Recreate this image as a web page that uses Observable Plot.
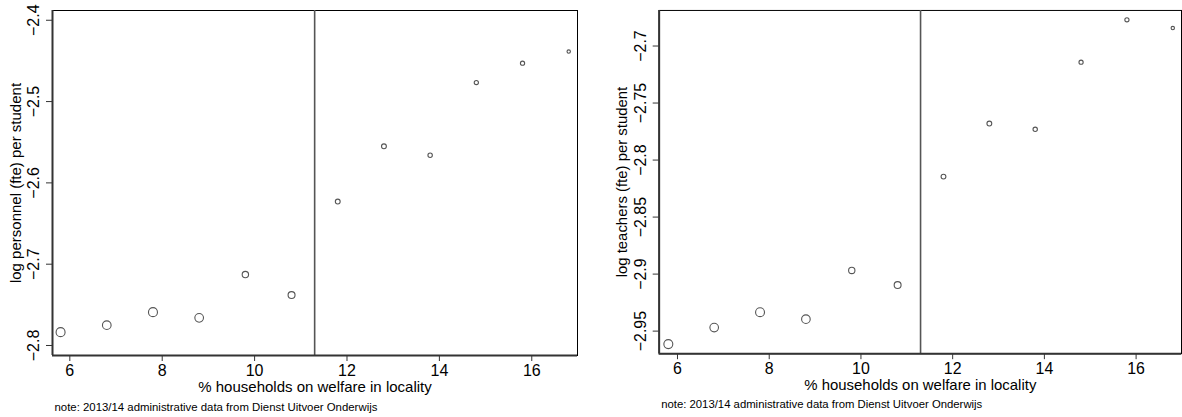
<!DOCTYPE html>
<html>
<head>
<meta charset="utf-8">
<script src="https://cdn.jsdelivr.net/npm/d3@7"></script>
<script src="https://cdn.jsdelivr.net/npm/@observablehq/plot@0.6"></script>
<style>
  html, body { margin: 0; padding: 0; background: #fff; }
  #wrap { width: 1182px; height: 417px; overflow: hidden; display: flex; background: #fff; }
  #left { width: 591px; flex: none; }
  #right { width: 591px; flex: none; overflow: visible; }
  svg { font-family: "Liberation Sans", Arial, sans-serif; display: block; }
</style>
</head>
<body>
<div id="wrap"><div id="left"></div><div id="right"></div></div>
<script>
// ---- data ----
const welfare = [5.8, 6.8, 7.8, 8.8, 9.8, 10.8, 11.8, 12.8, 13.8, 14.8, 15.8, 16.8];
const logPersonnel = [-2.7836, -2.775, -2.759, -2.766, -2.7127, -2.738, -2.623, -2.555, -2.566, -2.4766, -2.4528, -2.4385];
const logTeachers = [-2.9614, -2.9469, -2.9334, -2.9395, -2.8968, -2.9096, -2.8145, -2.768, -2.773, -2.7142, -2.677, -2.6843];
const binWeight = [200, 185, 200, 185, 100, 120, 58, 58, 48, 44, 44, 29];
const cutoff = 11.3;
const xTicks = [6, 8, 10, 12, 14, 16];
const yTicksPersonnel = [-2.8, -2.7, -2.6, -2.5, -2.4];
const yTicksTeachers = [-2.95, -2.9, -2.85, -2.8, -2.75, -2.7];
const xDomainLeft = [5.625, 16.99];
const xDomainRight = [5.6, 16.99];
const yDomainPersonnel = [-2.8123, -2.388];
const yDomainTeachers = [-2.9698, -2.6688];
const xTitle = "% households on welfare in locality";
const yTitlePersonnel = "log personnel (fte) per student";
const yTitleTeachers = "log teachers (fte) per student";
const note = "note: 2013/14 administrative data from Dienst Uitvoer Onderwijs";

const fmt = d => String(d).replace("-", "\u2212");

function panel({values, yTicks, xDomain, yDomain, yTitle, width, marginLeft, marginRight}) {
  const data = welfare.map((x, i) => ({x, y: values[i], w: binWeight[i]}));
  return Plot.plot({
    width, height: 417,
    marginTop: 10, marginBottom: 62, marginLeft, marginRight,
    style: {fontFamily: '"Liberation Sans", Arial, sans-serif', background: "#fff", overflow: "visible"},
    x: {domain: xDomain},
    y: {domain: yDomain},
    r: {type: "sqrt", domain: [0, 200], range: [0, 4.5]},
    marks: [
      Plot.frame({stroke: "#000", strokeWidth: 1}),
      Plot.ruleX([cutoff], {stroke: "#555", strokeWidth: 1.6}),
      Plot.ruleX([xDomain[0]], {stroke: "#333", strokeWidth: 2}),
      Plot.ruleY([yDomain[0]], {stroke: "#333", strokeWidth: 2}),
      Plot.axisX({ticks: xTicks, tickSize: 6, tickPadding: 3, fontSize: 16, label: null, stroke: "#333", color: "#000"}),
      Plot.axisY({ticks: yTicks, tickSize: 6, tickFormat: () => "", label: null, stroke: "#333"}),
      Plot.text(yTicks, {y: d => d, text: fmt, frameAnchor: "left", dx: -13.5, rotate: -90, textAnchor: "middle", lineAnchor: "bottom", fontSize: 16, fill: "#000"}),
      Plot.text([yTitle], {text: d => d, frameAnchor: "left", dx: -32, rotate: -90, textAnchor: "middle", lineAnchor: "bottom", fontSize: 15, fill: "#000"}),
      Plot.text([xTitle], {text: d => d, frameAnchor: "bottom", dy: 36.5, lineAnchor: "bottom", fontSize: 15, fill: "#000"}),
      Plot.text([note], {text: d => d, frameAnchor: "bottom-left", dx: 2, dy: 55, textAnchor: "start", lineAnchor: "bottom", fontSize: 11.4, fill: "#000"}),
      Plot.dot(data, {x: "x", y: "y", r: "w", stroke: "#555", strokeWidth: 1.1, fill: "none"})
    ]
  });
}

document.getElementById("left").append(panel({
  values: logPersonnel, yTicks: yTicksPersonnel, xDomain: xDomainLeft, yDomain: yDomainPersonnel,
  yTitle: yTitlePersonnel, width: 591, marginLeft: 52, marginRight: 14
}));
document.getElementById("right").append(panel({
  values: logTeachers, yTicks: yTicksTeachers, xDomain: xDomainRight, yDomain: yDomainTeachers,
  yTitle: yTitleTeachers, width: 594, marginLeft: 68, marginRight: 1
}));
</script>
</body>
</html>
